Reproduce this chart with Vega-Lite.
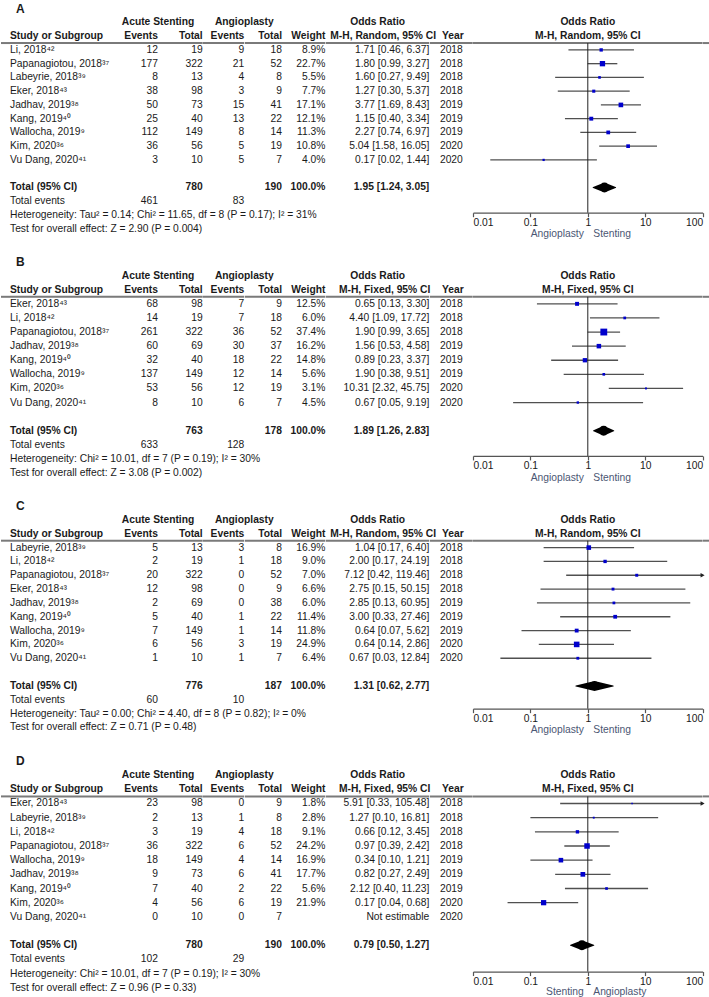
{
"$schema":"https://vega.github.io/schema/vega-lite/v6.json",
"padding":{"left":0,"top":1.8,"right":0,"bottom":0},
"columns":11,
"spacing":{"row":18.7,"column":0},
"align":{"row":"each","column":"each"},
"bounds":"flush",
"config":{
"view":{"stroke":null},
"font":"Liberation Sans",
"text":{"font":"Liberation Sans","fontSize":10.3,"color":"#1a1a1a","baseline":"middle"},
"axisY":{"disable":true},
"axisX":{"grid":false,"tickSize":4,"labelFlush":true,"domainColor":"#555555","tickColor":"#555555","domainWidth":1.2,"tickWidth":1.2,"labelFont":"Liberation Sans","labelFontSize":10.3,"labelColor":"#1a1a1a","labelPadding":1}
},
"datasets":{
"A":[
{"study":"Li, 2018⁴²","ae":12,"at":19,"be":9,"bt":18,"w":0.089,"ci":"1.71 [0.46, 6.37]","year":2018,"or":1.71,"lo":0.46,"hi":6.37},
{"study":"Papanagiotou, 2018³⁷","ae":177,"at":322,"be":21,"bt":52,"w":0.227,"ci":"1.80 [0.99, 3.27]","year":2018,"or":1.8,"lo":0.99,"hi":3.27},
{"study":"Labeyrie, 2018³⁹","ae":8,"at":13,"be":4,"bt":8,"w":0.055,"ci":"1.60 [0.27, 9.49]","year":2018,"or":1.6,"lo":0.27,"hi":9.49},
{"study":"Eker, 2018⁴³","ae":38,"at":98,"be":3,"bt":9,"w":0.077,"ci":"1.27 [0.30, 5.37]","year":2018,"or":1.27,"lo":0.3,"hi":5.37},
{"study":"Jadhav, 2019³⁸","ae":50,"at":73,"be":15,"bt":41,"w":0.171,"ci":"3.77 [1.69, 8.43]","year":2019,"or":3.77,"lo":1.69,"hi":8.43},
{"study":"Kang, 2019⁴⁰","ae":25,"at":40,"be":13,"bt":22,"w":0.121,"ci":"1.15 [0.40, 3.34]","year":2019,"or":1.15,"lo":0.4,"hi":3.34},
{"study":"Wallocha, 2019⁹","ae":112,"at":149,"be":8,"bt":14,"w":0.113,"ci":"2.27 [0.74, 6.97]","year":2019,"or":2.27,"lo":0.74,"hi":6.97},
{"study":"Kim, 2020³⁶","ae":36,"at":56,"be":5,"bt":19,"w":0.108,"ci":"5.04 [1.58, 16.05]","year":2020,"or":5.04,"lo":1.58,"hi":16.05},
{"study":"Vu Dang, 2020⁴¹","ae":3,"at":10,"be":5,"bt":7,"w":0.04,"ci":"0.17 [0.02, 1.44]","year":2020,"or":0.17,"lo":0.02,"hi":1.44}
],
"At":[{"ae":461,"at":780,"be":83,"bt":190,"w":1,"ci":"1.95 [1.24, 3.05]","or":1.95,"lo":1.24,"hi":3.05,"het":"Heterogeneity: Tau² = 0.14; Chi² = 11.65, df = 8 (P = 0.17); I² = 31%","test":"Test for overall effect: Z = 2.90 (P = 0.004)"}],
"B":[
{"study":"Eker, 2018⁴³","ae":68,"at":98,"be":7,"bt":9,"w":0.125,"ci":"0.65 [0.13, 3.30]","year":2018,"or":0.65,"lo":0.13,"hi":3.3},
{"study":"Li, 2018⁴²","ae":14,"at":19,"be":7,"bt":18,"w":0.06,"ci":"4.40 [1.09, 17.72]","year":2018,"or":4.4,"lo":1.09,"hi":17.72},
{"study":"Papanagiotou, 2018³⁷","ae":261,"at":322,"be":36,"bt":52,"w":0.374,"ci":"1.90 [0.99, 3.65]","year":2018,"or":1.9,"lo":0.99,"hi":3.65},
{"study":"Jadhav, 2019³⁸","ae":60,"at":69,"be":30,"bt":37,"w":0.162,"ci":"1.56 [0.53, 4.58]","year":2019,"or":1.56,"lo":0.53,"hi":4.58},
{"study":"Kang, 2019⁴⁰","ae":32,"at":40,"be":18,"bt":22,"w":0.148,"ci":"0.89 [0.23, 3.37]","year":2019,"or":0.89,"lo":0.23,"hi":3.37},
{"study":"Wallocha, 2019⁹","ae":137,"at":149,"be":12,"bt":14,"w":0.056,"ci":"1.90 [0.38, 9.51]","year":2019,"or":1.9,"lo":0.38,"hi":9.51},
{"study":"Kim, 2020³⁶","ae":53,"at":56,"be":12,"bt":19,"w":0.031,"ci":"10.31 [2.32, 45.75]","year":2020,"or":10.31,"lo":2.32,"hi":45.75},
{"study":"Vu Dang, 2020⁴¹","ae":8,"at":10,"be":6,"bt":7,"w":0.045,"ci":"0.67 [0.05, 9.19]","year":2020,"or":0.67,"lo":0.05,"hi":9.19}
],
"Bt":[{"ae":633,"at":763,"be":128,"bt":178,"w":1,"ci":"1.89 [1.26, 2.83]","or":1.89,"lo":1.26,"hi":2.83,"het":"Heterogeneity: Chi² = 10.01, df = 7 (P = 0.19); I² = 30%","test":"Test for overall effect: Z = 3.08 (P = 0.002)"}],
"C":[
{"study":"Labeyrie, 2018³⁹","ae":5,"at":13,"be":3,"bt":8,"w":0.169,"ci":"1.04 [0.17, 6.40]","year":2018,"or":1.04,"lo":0.17,"hi":6.4},
{"study":"Li, 2018⁴²","ae":2,"at":19,"be":1,"bt":18,"w":0.09,"ci":"2.00 [0.17, 24.19]","year":2018,"or":2,"lo":0.17,"hi":24.19},
{"study":"Papanagiotou, 2018³⁷","ae":20,"at":322,"be":0,"bt":52,"w":0.07,"ci":"7.12 [0.42, 119.46]","year":2018,"or":7.12,"lo":0.42,"hi":119.46},
{"study":"Eker, 2018⁴³","ae":12,"at":98,"be":0,"bt":9,"w":0.066,"ci":"2.75 [0.15, 50.15]","year":2018,"or":2.75,"lo":0.15,"hi":50.15},
{"study":"Jadhav, 2019³⁸","ae":2,"at":69,"be":0,"bt":38,"w":0.06,"ci":"2.85 [0.13, 60.95]","year":2019,"or":2.85,"lo":0.13,"hi":60.95},
{"study":"Kang, 2019⁴⁰","ae":5,"at":40,"be":1,"bt":22,"w":0.114,"ci":"3.00 [0.33, 27.46]","year":2019,"or":3,"lo":0.33,"hi":27.46},
{"study":"Wallocha, 2019⁹","ae":7,"at":149,"be":1,"bt":14,"w":0.118,"ci":"0.64 [0.07, 5.62]","year":2019,"or":0.64,"lo":0.07,"hi":5.62},
{"study":"Kim, 2020³⁶","ae":6,"at":56,"be":3,"bt":19,"w":0.249,"ci":"0.64 [0.14, 2.86]","year":2020,"or":0.64,"lo":0.14,"hi":2.86},
{"study":"Vu Dang, 2020⁴¹","ae":1,"at":10,"be":1,"bt":7,"w":0.064,"ci":"0.67 [0.03, 12.84]","year":2020,"or":0.67,"lo":0.03,"hi":12.84}
],
"Ct":[{"ae":60,"at":776,"be":10,"bt":187,"w":1,"ci":"1.31 [0.62, 2.77]","or":1.31,"lo":0.62,"hi":2.77,"het":"Heterogeneity: Tau² = 0.00; Chi² = 4.40, df = 8 (P = 0.82); I² = 0%","test":"Test for overall effect: Z = 0.71 (P = 0.48)"}],
"D":[
{"study":"Eker, 2018⁴³","ae":23,"at":98,"be":0,"bt":9,"w":0.018,"ci":"5.91 [0.33, 105.48]","year":2018,"or":5.91,"lo":0.33,"hi":105.48},
{"study":"Labeyrie, 2018³⁹","ae":2,"at":13,"be":1,"bt":8,"w":0.028,"ci":"1.27 [0.10, 16.81]","year":2018,"or":1.27,"lo":0.1,"hi":16.81},
{"study":"Li, 2018⁴²","ae":3,"at":19,"be":4,"bt":18,"w":0.091,"ci":"0.66 [0.12, 3.45]","year":2018,"or":0.66,"lo":0.12,"hi":3.45},
{"study":"Papanagiotou, 2018³⁷","ae":36,"at":322,"be":6,"bt":52,"w":0.242,"ci":"0.97 [0.39, 2.42]","year":2018,"or":0.97,"lo":0.39,"hi":2.42},
{"study":"Wallocha, 2019⁹","ae":18,"at":149,"be":4,"bt":14,"w":0.169,"ci":"0.34 [0.10, 1.21]","year":2019,"or":0.34,"lo":0.1,"hi":1.21},
{"study":"Jadhav, 2019³⁸","ae":9,"at":73,"be":6,"bt":41,"w":0.177,"ci":"0.82 [0.27, 2.49]","year":2019,"or":0.82,"lo":0.27,"hi":2.49},
{"study":"Kang, 2019⁴⁰","ae":7,"at":40,"be":2,"bt":22,"w":0.056,"ci":"2.12 [0.40, 11.23]","year":2019,"or":2.12,"lo":0.4,"hi":11.23},
{"study":"Kim, 2020³⁶","ae":4,"at":56,"be":6,"bt":19,"w":0.219,"ci":"0.17 [0.04, 0.68]","year":2020,"or":0.17,"lo":0.04,"hi":0.68},
{"study":"Vu Dang, 2020⁴¹","ae":0,"at":10,"be":0,"bt":7,"w":null,"ci":"Not estimable","year":2020,"or":null,"lo":null,"hi":null}
],
"Dt":[{"ae":102,"at":780,"be":29,"bt":190,"w":1,"ci":"0.79 [0.50, 1.27]","or":0.79,"lo":0.5,"hi":1.27,"het":"Heterogeneity: Chi² = 10.01, df = 7 (P = 0.19); I² = 30%","test":"Test for overall effect: Z = 0.96 (P = 0.33)"}]
},
"concat":[
{"width":9,"height":{"step":13.75},"data":{"values":[{}]},"mark":{"type":"rule","color":"#7a7a7a","strokeWidth":2},"encoding":{"x":{"value":0},"x2":{"value":"width"},"y":{"datum":"hdr2","bandPosition":1,"scale":{"type":"band","domain":["lbl","hdr1","hdr2","Li, 2018⁴²","Papanagiotou, 2018³⁷","Labeyrie, 2018³⁹","Eker, 2018⁴³","Jadhav, 2019³⁸","Kang, 2019⁴⁰","Wallocha, 2019⁹","Kim, 2020³⁶","Vu Dang, 2020⁴¹","blank","total","tevents","het","test"],"paddingInner":0,"paddingOuter":0},"axis":null}}},
{"width":102,"height":{"step":13.75},"data":{"name":"A"},"encoding":{"y":{"field":"study","type":"nominal","scale":{"type":"band","domain":["lbl","hdr1","hdr2","Li, 2018⁴²","Papanagiotou, 2018³⁷","Labeyrie, 2018³⁹","Eker, 2018⁴³","Jadhav, 2019³⁸","Kang, 2019⁴⁰","Wallocha, 2019⁹","Kim, 2020³⁶","Vu Dang, 2020⁴¹","blank","total","tevents","het","test"],"paddingInner":0,"paddingOuter":0},"axis":null},"x":{"value":0}},"layer":[
{"mark":{"type":"text","align":"left"},"encoding":{"text":{"field":"study","type":"nominal"}}},
{"data":{"values":[{}]},"mark":{"type":"text","align":"left","dx":6,"fontSize":12,"fontWeight":"bold","text":"A"},"encoding":{"y":{"datum":"lbl"}}},
{"data":{"values":[{}]},"mark":{"type":"text","align":"left","fontWeight":"bold","text":"Study or Subgroup"},"encoding":{"y":{"datum":"hdr2"}}},
{"data":{"values":[{}]},"mark":{"type":"text","align":"left","fontWeight":"bold","text":"Total (95% CI)"},"encoding":{"y":{"datum":"total"}}},
{"data":{"values":[{}]},"mark":{"type":"text","align":"left","text":"Total events"},"encoding":{"y":{"datum":"tevents"}}},
{"data":{"name":"At"},"mark":{"type":"text","align":"left"},"encoding":{"y":{"datum":"het"},"text":{"field":"het","type":"nominal"}}},
{"data":{"name":"At"},"mark":{"type":"text","align":"left"},"encoding":{"y":{"datum":"test"},"text":{"field":"test","type":"nominal"}}},
{"data":{"values":[{}]},"mark":{"type":"rule","color":"#7a7a7a","strokeWidth":2},"encoding":{"x":{"value":0},"x2":{"value":"width"},"y":{"datum":"hdr2","bandPosition":1}}}
]},
{"width":46,"height":{"step":13.75},"data":{"name":"A"},"encoding":{"y":{"field":"study","type":"nominal","scale":{"type":"band","domain":["lbl","hdr1","hdr2","Li, 2018⁴²","Papanagiotou, 2018³⁷","Labeyrie, 2018³⁹","Eker, 2018⁴³","Jadhav, 2019³⁸","Kang, 2019⁴⁰","Wallocha, 2019⁹","Kim, 2020³⁶","Vu Dang, 2020⁴¹","blank","total","tevents","het","test"],"paddingInner":0,"paddingOuter":0},"axis":null},"x":{"value":"width"}},"layer":[
{"mark":{"type":"text","align":"right"},"encoding":{"text":{"field":"ae","type":"nominal"}}},
{"data":{"values":[{}]},"mark":{"type":"text","align":"center","fontWeight":"bold","text":"Acute Stenting"},"encoding":{"y":{"datum":"hdr1"}}},
{"data":{"values":[{}]},"mark":{"type":"text","align":"right","fontWeight":"bold","text":"Events"},"encoding":{"y":{"datum":"hdr2"}}},
{"data":{"name":"At"},"mark":{"type":"text","align":"right"},"encoding":{"y":{"datum":"tevents"},"text":{"field":"ae","type":"nominal"}}},
{"data":{"values":[{}]},"mark":{"type":"rule","color":"#7a7a7a","strokeWidth":2},"encoding":{"x":{"value":0},"x2":{"value":"width"},"y":{"datum":"hdr2","bandPosition":1}}}
]},
{"width":44.7,"height":{"step":13.75},"data":{"name":"A"},"encoding":{"y":{"field":"study","type":"nominal","scale":{"type":"band","domain":["lbl","hdr1","hdr2","Li, 2018⁴²","Papanagiotou, 2018³⁷","Labeyrie, 2018³⁹","Eker, 2018⁴³","Jadhav, 2019³⁸","Kang, 2019⁴⁰","Wallocha, 2019⁹","Kim, 2020³⁶","Vu Dang, 2020⁴¹","blank","total","tevents","het","test"],"paddingInner":0,"paddingOuter":0},"axis":null},"x":{"value":"width"}},"layer":[
{"mark":{"type":"text","align":"right"},"encoding":{"text":{"field":"at","type":"nominal"}}},
{"data":{"values":[{}]},"mark":{"type":"text","align":"right","fontWeight":"bold","text":"Total"},"encoding":{"y":{"datum":"hdr2"}}},
{"data":{"name":"At"},"mark":{"type":"text","align":"right","fontWeight":"bold"},"encoding":{"y":{"datum":"total"},"text":{"field":"at","type":"nominal"}}},
{"data":{"values":[{}]},"mark":{"type":"rule","color":"#7a7a7a","strokeWidth":2},"encoding":{"x":{"value":0},"x2":{"value":"width"},"y":{"datum":"hdr2","bandPosition":1}}}
]},
{"width":41.3,"height":{"step":13.75},"data":{"name":"A"},"encoding":{"y":{"field":"study","type":"nominal","scale":{"type":"band","domain":["lbl","hdr1","hdr2","Li, 2018⁴²","Papanagiotou, 2018³⁷","Labeyrie, 2018³⁹","Eker, 2018⁴³","Jadhav, 2019³⁸","Kang, 2019⁴⁰","Wallocha, 2019⁹","Kim, 2020³⁶","Vu Dang, 2020⁴¹","blank","total","tevents","het","test"],"paddingInner":0,"paddingOuter":0},"axis":null},"x":{"value":"width"}},"layer":[
{"mark":{"type":"text","align":"right"},"encoding":{"text":{"field":"be","type":"nominal"}}},
{"data":{"values":[{}]},"mark":{"type":"text","align":"center","fontWeight":"bold","text":"Angioplasty"},"encoding":{"y":{"datum":"hdr1"}}},
{"data":{"values":[{}]},"mark":{"type":"text","align":"right","fontWeight":"bold","text":"Events"},"encoding":{"y":{"datum":"hdr2"}}},
{"data":{"name":"At"},"mark":{"type":"text","align":"right"},"encoding":{"y":{"datum":"tevents"},"text":{"field":"be","type":"nominal"}}},
{"data":{"values":[{}]},"mark":{"type":"rule","color":"#7a7a7a","strokeWidth":2},"encoding":{"x":{"value":0},"x2":{"value":"width"},"y":{"datum":"hdr2","bandPosition":1}}}
]},
{"width":37,"height":{"step":13.75},"data":{"name":"A"},"encoding":{"y":{"field":"study","type":"nominal","scale":{"type":"band","domain":["lbl","hdr1","hdr2","Li, 2018⁴²","Papanagiotou, 2018³⁷","Labeyrie, 2018³⁹","Eker, 2018⁴³","Jadhav, 2019³⁸","Kang, 2019⁴⁰","Wallocha, 2019⁹","Kim, 2020³⁶","Vu Dang, 2020⁴¹","blank","total","tevents","het","test"],"paddingInner":0,"paddingOuter":0},"axis":null},"x":{"value":"width"}},"layer":[
{"mark":{"type":"text","align":"right"},"encoding":{"text":{"field":"bt","type":"nominal"}}},
{"data":{"values":[{}]},"mark":{"type":"text","align":"right","fontWeight":"bold","text":"Total"},"encoding":{"y":{"datum":"hdr2"}}},
{"data":{"name":"At"},"mark":{"type":"text","align":"right","fontWeight":"bold"},"encoding":{"y":{"datum":"total"},"text":{"field":"bt","type":"nominal"}}},
{"data":{"values":[{}]},"mark":{"type":"rule","color":"#7a7a7a","strokeWidth":2},"encoding":{"x":{"value":0},"x2":{"value":"width"},"y":{"datum":"hdr2","bandPosition":1}}}
]},
{"width":43.4,"height":{"step":13.75},"data":{"name":"A"},"encoding":{"y":{"field":"study","type":"nominal","scale":{"type":"band","domain":["lbl","hdr1","hdr2","Li, 2018⁴²","Papanagiotou, 2018³⁷","Labeyrie, 2018³⁹","Eker, 2018⁴³","Jadhav, 2019³⁸","Kang, 2019⁴⁰","Wallocha, 2019⁹","Kim, 2020³⁶","Vu Dang, 2020⁴¹","blank","total","tevents","het","test"],"paddingInner":0,"paddingOuter":0},"axis":null},"x":{"value":"width"}},"layer":[
{"transform":[{"filter":"isValid(datum.w)"}],"mark":{"type":"text","align":"right"},"encoding":{"text":{"field":"w","type":"quantitative","format":".1%"}}},
{"data":{"values":[{}]},"mark":{"type":"text","align":"right","fontWeight":"bold","text":"Weight"},"encoding":{"y":{"datum":"hdr2"}}},
{"data":{"name":"At"},"mark":{"type":"text","align":"right","fontWeight":"bold"},"encoding":{"y":{"datum":"total"},"text":{"field":"w","type":"quantitative","format":".1%"}}},
{"data":{"values":[{}]},"mark":{"type":"rule","color":"#7a7a7a","strokeWidth":2},"encoding":{"x":{"value":0},"x2":{"value":"width"},"y":{"datum":"hdr2","bandPosition":1}}}
]},
{"width":103.3,"height":{"step":13.75},"data":{"name":"A"},"encoding":{"y":{"field":"study","type":"nominal","scale":{"type":"band","domain":["lbl","hdr1","hdr2","Li, 2018⁴²","Papanagiotou, 2018³⁷","Labeyrie, 2018³⁹","Eker, 2018⁴³","Jadhav, 2019³⁸","Kang, 2019⁴⁰","Wallocha, 2019⁹","Kim, 2020³⁶","Vu Dang, 2020⁴¹","blank","total","tevents","het","test"],"paddingInner":0,"paddingOuter":0},"axis":null}},"layer":[
{"mark":{"type":"text","align":"right"},"encoding":{"x":{"value":"width"},"text":{"field":"ci","type":"nominal"}}},
{"data":{"values":[{}]},"mark":{"type":"text","fontWeight":"bold","text":"Odds Ratio"},"encoding":{"y":{"datum":"hdr1"}}},
{"data":{"values":[{}]},"mark":{"type":"text","fontWeight":"bold","dx":5.5,"text":"M-H, Random, 95% CI"},"encoding":{"y":{"datum":"hdr2"}}},
{"data":{"name":"At"},"mark":{"type":"text","align":"right","fontWeight":"bold"},"encoding":{"x":{"value":"width"},"y":{"datum":"total"},"text":{"field":"ci","type":"nominal"}}},
{"data":{"values":[{}]},"mark":{"type":"rule","color":"#7a7a7a","strokeWidth":2},"encoding":{"x":{"value":0},"x2":{"value":"width"},"y":{"datum":"hdr2","bandPosition":1}}}
]},
{"width":42.7,"height":{"step":13.75},"data":{"name":"A"},"encoding":{"y":{"field":"study","type":"nominal","scale":{"type":"band","domain":["lbl","hdr1","hdr2","Li, 2018⁴²","Papanagiotou, 2018³⁷","Labeyrie, 2018³⁹","Eker, 2018⁴³","Jadhav, 2019³⁸","Kang, 2019⁴⁰","Wallocha, 2019⁹","Kim, 2020³⁶","Vu Dang, 2020⁴¹","blank","total","tevents","het","test"],"paddingInner":0,"paddingOuter":0},"axis":null}},"layer":[
{"mark":{"type":"text"},"encoding":{"text":{"field":"year","type":"nominal"}}},
{"data":{"values":[{}]},"mark":{"type":"text","fontWeight":"bold","dx":1.5,"text":"Year"},"encoding":{"y":{"datum":"hdr2"}}},
{"data":{"values":[{}]},"mark":{"type":"rule","color":"#7a7a7a","strokeWidth":2},"encoding":{"x":{"value":0},"x2":{"value":"width"},"y":{"datum":"hdr2","bandPosition":1}}}
]},
{"width":229.6,"height":210.9,"data":{"name":"A"},"encoding":{"y":{"field":"study","type":"nominal","scale":{"type":"band","domain":["lbl","hdr1","hdr2","Li, 2018⁴²","Papanagiotou, 2018³⁷","Labeyrie, 2018³⁹","Eker, 2018⁴³","Jadhav, 2019³⁸","Kang, 2019⁴⁰","Wallocha, 2019⁹","Kim, 2020³⁶","Vu Dang, 2020⁴¹","blank","total","tevents"],"paddingInner":0,"paddingOuter":0.169,"align":0},"axis":null}},"layer":[
{"data":{"values":[{}]},"mark":{"type":"rule","color":"#7a7a7a","strokeWidth":2},"encoding":{"x":{"value":0},"x2":{"value":"width"},"y":{"datum":"hdr2","bandPosition":1}}},
{"data":{"values":[{}]},"mark":{"type":"text","fontWeight":"bold","text":"Odds Ratio"},"encoding":{"y":{"datum":"hdr1"}}},
{"data":{"values":[{}]},"mark":{"type":"text","fontWeight":"bold","text":"M-H, Random, 95% CI"},"encoding":{"y":{"datum":"hdr2"}}},
{"transform":[{"filter":"isValid(datum.or)"}],"mark":{"type":"rule","color":"#505050","strokeWidth":1.3},"encoding":{"x":{"field":"lo","type":"quantitative","scale":{"type":"log","domain":[0.01,100],"nice":false,"clamp":true},"axis":{"values":[0.01,0.1,1,10,100],"format":"~g","title":null}},"x2":{"field":"hi"}}},
{"data":{"values":[{}]},"mark":{"type":"rule","color":"#222222","strokeWidth":1},"encoding":{"x":{"datum":1},"y":{"datum":"hdr2","bandPosition":1},"y2":{"value":"height"}}},
{"data":{"values":[{}]},"mark":{"type":"text","align":"right","dx":-4,"dy":21.5,"color":"#4b5673","text":"Angioplasty"},"encoding":{"x":{"datum":1},"y":{"value":"height"}}},
{"data":{"values":[{}]},"mark":{"type":"text","align":"left","dx":5.5,"dy":21.5,"color":"#4b5673","text":"Stenting"},"encoding":{"x":{"datum":1},"y":{"value":"height"}}},
{"transform":[{"filter":"isValid(datum.or)"}],"mark":{"type":"point","shape":"square","filled":true,"opacity":1,"color":"#0000cc","strokeWidth":0},"encoding":{"x":{"field":"or","type":"quantitative"},"size":{"field":"w","type":"quantitative","scale":{"domain":[0,0.4],"range":[0,50]},"legend":null}}},
{"transform":[{"filter":"datum.hi > 100"}],"mark":{"type":"point","shape":"triangle-right","filled":true,"opacity":1,"color":"#222222","size":22},"encoding":{"x":{"field":"hi","type":"quantitative"}}},
{"data":{"name":"At"},"transform":[{"fold":["lo","or","hi"],"as":["k","v"]}],"mark":{"type":"trail","color":"#000000"},"encoding":{"x":{"field":"v","type":"quantitative"},"y":{"datum":"total"},"size":{"condition":{"test":"datum.k === 'or'","value":10},"value":0}}}
]},
{"width":10,"height":{"step":13.75},"data":{"values":[{}]},"mark":{"type":"rule","color":"#7a7a7a","strokeWidth":2},"encoding":{"x":{"value":0},"x2":{"value":"width"},"y":{"datum":"hdr2","bandPosition":1,"scale":{"type":"band","domain":["lbl","hdr1","hdr2","Li, 2018⁴²","Papanagiotou, 2018³⁷","Labeyrie, 2018³⁹","Eker, 2018⁴³","Jadhav, 2019³⁸","Kang, 2019⁴⁰","Wallocha, 2019⁹","Kim, 2020³⁶","Vu Dang, 2020⁴¹","blank","total","tevents","het","test"],"paddingInner":0,"paddingOuter":0},"axis":null}}},

{"width":9,"height":{"step":14.1},"data":{"values":[{}]},"mark":{"type":"rule","color":"#7a7a7a","strokeWidth":2},"encoding":{"x":{"value":0},"x2":{"value":"width"},"y":{"datum":"hdr2","bandPosition":1,"scale":{"type":"band","domain":["lbl","hdr1","hdr2","Eker, 2018⁴³","Li, 2018⁴²","Papanagiotou, 2018³⁷","Jadhav, 2019³⁸","Kang, 2019⁴⁰","Wallocha, 2019⁹","Kim, 2020³⁶","Vu Dang, 2020⁴¹","blank","total","tevents","het","test"],"paddingInner":0,"paddingOuter":0},"axis":null}}},
{"width":102,"height":{"step":14.1},"data":{"name":"B"},"encoding":{"y":{"field":"study","type":"nominal","scale":{"type":"band","domain":["lbl","hdr1","hdr2","Eker, 2018⁴³","Li, 2018⁴²","Papanagiotou, 2018³⁷","Jadhav, 2019³⁸","Kang, 2019⁴⁰","Wallocha, 2019⁹","Kim, 2020³⁶","Vu Dang, 2020⁴¹","blank","total","tevents","het","test"],"paddingInner":0,"paddingOuter":0},"axis":null},"x":{"value":0}},"layer":[
{"mark":{"type":"text","align":"left"},"encoding":{"text":{"field":"study","type":"nominal"}}},
{"data":{"values":[{}]},"mark":{"type":"text","align":"left","dx":6,"fontSize":12,"fontWeight":"bold","text":"B"},"encoding":{"y":{"datum":"lbl"}}},
{"data":{"values":[{}]},"mark":{"type":"text","align":"left","fontWeight":"bold","text":"Study or Subgroup"},"encoding":{"y":{"datum":"hdr2"}}},
{"data":{"values":[{}]},"mark":{"type":"text","align":"left","fontWeight":"bold","text":"Total (95% CI)"},"encoding":{"y":{"datum":"total"}}},
{"data":{"values":[{}]},"mark":{"type":"text","align":"left","text":"Total events"},"encoding":{"y":{"datum":"tevents"}}},
{"data":{"name":"Bt"},"mark":{"type":"text","align":"left"},"encoding":{"y":{"datum":"het"},"text":{"field":"het","type":"nominal"}}},
{"data":{"name":"Bt"},"mark":{"type":"text","align":"left"},"encoding":{"y":{"datum":"test"},"text":{"field":"test","type":"nominal"}}},
{"data":{"values":[{}]},"mark":{"type":"rule","color":"#7a7a7a","strokeWidth":2},"encoding":{"x":{"value":0},"x2":{"value":"width"},"y":{"datum":"hdr2","bandPosition":1}}}
]},
{"width":46,"height":{"step":14.1},"data":{"name":"B"},"encoding":{"y":{"field":"study","type":"nominal","scale":{"type":"band","domain":["lbl","hdr1","hdr2","Eker, 2018⁴³","Li, 2018⁴²","Papanagiotou, 2018³⁷","Jadhav, 2019³⁸","Kang, 2019⁴⁰","Wallocha, 2019⁹","Kim, 2020³⁶","Vu Dang, 2020⁴¹","blank","total","tevents","het","test"],"paddingInner":0,"paddingOuter":0},"axis":null},"x":{"value":"width"}},"layer":[
{"mark":{"type":"text","align":"right"},"encoding":{"text":{"field":"ae","type":"nominal"}}},
{"data":{"values":[{}]},"mark":{"type":"text","align":"center","fontWeight":"bold","text":"Acute Stenting"},"encoding":{"y":{"datum":"hdr1"}}},
{"data":{"values":[{}]},"mark":{"type":"text","align":"right","fontWeight":"bold","text":"Events"},"encoding":{"y":{"datum":"hdr2"}}},
{"data":{"name":"Bt"},"mark":{"type":"text","align":"right"},"encoding":{"y":{"datum":"tevents"},"text":{"field":"ae","type":"nominal"}}},
{"data":{"values":[{}]},"mark":{"type":"rule","color":"#7a7a7a","strokeWidth":2},"encoding":{"x":{"value":0},"x2":{"value":"width"},"y":{"datum":"hdr2","bandPosition":1}}}
]},
{"width":44.7,"height":{"step":14.1},"data":{"name":"B"},"encoding":{"y":{"field":"study","type":"nominal","scale":{"type":"band","domain":["lbl","hdr1","hdr2","Eker, 2018⁴³","Li, 2018⁴²","Papanagiotou, 2018³⁷","Jadhav, 2019³⁸","Kang, 2019⁴⁰","Wallocha, 2019⁹","Kim, 2020³⁶","Vu Dang, 2020⁴¹","blank","total","tevents","het","test"],"paddingInner":0,"paddingOuter":0},"axis":null},"x":{"value":"width"}},"layer":[
{"mark":{"type":"text","align":"right"},"encoding":{"text":{"field":"at","type":"nominal"}}},
{"data":{"values":[{}]},"mark":{"type":"text","align":"right","fontWeight":"bold","text":"Total"},"encoding":{"y":{"datum":"hdr2"}}},
{"data":{"name":"Bt"},"mark":{"type":"text","align":"right","fontWeight":"bold"},"encoding":{"y":{"datum":"total"},"text":{"field":"at","type":"nominal"}}},
{"data":{"values":[{}]},"mark":{"type":"rule","color":"#7a7a7a","strokeWidth":2},"encoding":{"x":{"value":0},"x2":{"value":"width"},"y":{"datum":"hdr2","bandPosition":1}}}
]},
{"width":41.3,"height":{"step":14.1},"data":{"name":"B"},"encoding":{"y":{"field":"study","type":"nominal","scale":{"type":"band","domain":["lbl","hdr1","hdr2","Eker, 2018⁴³","Li, 2018⁴²","Papanagiotou, 2018³⁷","Jadhav, 2019³⁸","Kang, 2019⁴⁰","Wallocha, 2019⁹","Kim, 2020³⁶","Vu Dang, 2020⁴¹","blank","total","tevents","het","test"],"paddingInner":0,"paddingOuter":0},"axis":null},"x":{"value":"width"}},"layer":[
{"mark":{"type":"text","align":"right"},"encoding":{"text":{"field":"be","type":"nominal"}}},
{"data":{"values":[{}]},"mark":{"type":"text","align":"center","fontWeight":"bold","text":"Angioplasty"},"encoding":{"y":{"datum":"hdr1"}}},
{"data":{"values":[{}]},"mark":{"type":"text","align":"right","fontWeight":"bold","text":"Events"},"encoding":{"y":{"datum":"hdr2"}}},
{"data":{"name":"Bt"},"mark":{"type":"text","align":"right"},"encoding":{"y":{"datum":"tevents"},"text":{"field":"be","type":"nominal"}}},
{"data":{"values":[{}]},"mark":{"type":"rule","color":"#7a7a7a","strokeWidth":2},"encoding":{"x":{"value":0},"x2":{"value":"width"},"y":{"datum":"hdr2","bandPosition":1}}}
]},
{"width":37,"height":{"step":14.1},"data":{"name":"B"},"encoding":{"y":{"field":"study","type":"nominal","scale":{"type":"band","domain":["lbl","hdr1","hdr2","Eker, 2018⁴³","Li, 2018⁴²","Papanagiotou, 2018³⁷","Jadhav, 2019³⁸","Kang, 2019⁴⁰","Wallocha, 2019⁹","Kim, 2020³⁶","Vu Dang, 2020⁴¹","blank","total","tevents","het","test"],"paddingInner":0,"paddingOuter":0},"axis":null},"x":{"value":"width"}},"layer":[
{"mark":{"type":"text","align":"right"},"encoding":{"text":{"field":"bt","type":"nominal"}}},
{"data":{"values":[{}]},"mark":{"type":"text","align":"right","fontWeight":"bold","text":"Total"},"encoding":{"y":{"datum":"hdr2"}}},
{"data":{"name":"Bt"},"mark":{"type":"text","align":"right","fontWeight":"bold"},"encoding":{"y":{"datum":"total"},"text":{"field":"bt","type":"nominal"}}},
{"data":{"values":[{}]},"mark":{"type":"rule","color":"#7a7a7a","strokeWidth":2},"encoding":{"x":{"value":0},"x2":{"value":"width"},"y":{"datum":"hdr2","bandPosition":1}}}
]},
{"width":43.4,"height":{"step":14.1},"data":{"name":"B"},"encoding":{"y":{"field":"study","type":"nominal","scale":{"type":"band","domain":["lbl","hdr1","hdr2","Eker, 2018⁴³","Li, 2018⁴²","Papanagiotou, 2018³⁷","Jadhav, 2019³⁸","Kang, 2019⁴⁰","Wallocha, 2019⁹","Kim, 2020³⁶","Vu Dang, 2020⁴¹","blank","total","tevents","het","test"],"paddingInner":0,"paddingOuter":0},"axis":null},"x":{"value":"width"}},"layer":[
{"transform":[{"filter":"isValid(datum.w)"}],"mark":{"type":"text","align":"right"},"encoding":{"text":{"field":"w","type":"quantitative","format":".1%"}}},
{"data":{"values":[{}]},"mark":{"type":"text","align":"right","fontWeight":"bold","text":"Weight"},"encoding":{"y":{"datum":"hdr2"}}},
{"data":{"name":"Bt"},"mark":{"type":"text","align":"right","fontWeight":"bold"},"encoding":{"y":{"datum":"total"},"text":{"field":"w","type":"quantitative","format":".1%"}}},
{"data":{"values":[{}]},"mark":{"type":"rule","color":"#7a7a7a","strokeWidth":2},"encoding":{"x":{"value":0},"x2":{"value":"width"},"y":{"datum":"hdr2","bandPosition":1}}}
]},
{"width":103.3,"height":{"step":14.1},"data":{"name":"B"},"encoding":{"y":{"field":"study","type":"nominal","scale":{"type":"band","domain":["lbl","hdr1","hdr2","Eker, 2018⁴³","Li, 2018⁴²","Papanagiotou, 2018³⁷","Jadhav, 2019³⁸","Kang, 2019⁴⁰","Wallocha, 2019⁹","Kim, 2020³⁶","Vu Dang, 2020⁴¹","blank","total","tevents","het","test"],"paddingInner":0,"paddingOuter":0},"axis":null}},"layer":[
{"mark":{"type":"text","align":"right"},"encoding":{"x":{"value":"width"},"text":{"field":"ci","type":"nominal"}}},
{"data":{"values":[{}]},"mark":{"type":"text","fontWeight":"bold","text":"Odds Ratio"},"encoding":{"y":{"datum":"hdr1"}}},
{"data":{"values":[{}]},"mark":{"type":"text","fontWeight":"bold","dx":7,"text":"M-H, Fixed, 95% CI"},"encoding":{"y":{"datum":"hdr2"}}},
{"data":{"name":"Bt"},"mark":{"type":"text","align":"right","fontWeight":"bold"},"encoding":{"x":{"value":"width"},"y":{"datum":"total"},"text":{"field":"ci","type":"nominal"}}},
{"data":{"values":[{}]},"mark":{"type":"rule","color":"#7a7a7a","strokeWidth":2},"encoding":{"x":{"value":0},"x2":{"value":"width"},"y":{"datum":"hdr2","bandPosition":1}}}
]},
{"width":42.7,"height":{"step":14.1},"data":{"name":"B"},"encoding":{"y":{"field":"study","type":"nominal","scale":{"type":"band","domain":["lbl","hdr1","hdr2","Eker, 2018⁴³","Li, 2018⁴²","Papanagiotou, 2018³⁷","Jadhav, 2019³⁸","Kang, 2019⁴⁰","Wallocha, 2019⁹","Kim, 2020³⁶","Vu Dang, 2020⁴¹","blank","total","tevents","het","test"],"paddingInner":0,"paddingOuter":0},"axis":null}},"layer":[
{"mark":{"type":"text"},"encoding":{"text":{"field":"year","type":"nominal"}}},
{"data":{"values":[{}]},"mark":{"type":"text","fontWeight":"bold","dx":1.5,"text":"Year"},"encoding":{"y":{"datum":"hdr2"}}},
{"data":{"values":[{}]},"mark":{"type":"rule","color":"#7a7a7a","strokeWidth":2},"encoding":{"x":{"value":0},"x2":{"value":"width"},"y":{"datum":"hdr2","bandPosition":1}}}
]},
{"width":229.6,"height":201.45,"data":{"name":"B"},"encoding":{"y":{"field":"study","type":"nominal","scale":{"type":"band","domain":["lbl","hdr1","hdr2","Eker, 2018⁴³","Li, 2018⁴²","Papanagiotou, 2018³⁷","Jadhav, 2019³⁸","Kang, 2019⁴⁰","Wallocha, 2019⁹","Kim, 2020³⁶","Vu Dang, 2020⁴¹","blank","total","tevents"],"paddingInner":0,"paddingOuter":0.144,"align":0},"axis":null}},"layer":[
{"data":{"values":[{}]},"mark":{"type":"rule","color":"#7a7a7a","strokeWidth":2},"encoding":{"x":{"value":0},"x2":{"value":"width"},"y":{"datum":"hdr2","bandPosition":1}}},
{"data":{"values":[{}]},"mark":{"type":"text","fontWeight":"bold","text":"Odds Ratio"},"encoding":{"y":{"datum":"hdr1"}}},
{"data":{"values":[{}]},"mark":{"type":"text","fontWeight":"bold","text":"M-H, Fixed, 95% CI"},"encoding":{"y":{"datum":"hdr2"}}},
{"transform":[{"filter":"isValid(datum.or)"}],"mark":{"type":"rule","color":"#505050","strokeWidth":1.3},"encoding":{"x":{"field":"lo","type":"quantitative","scale":{"type":"log","domain":[0.01,100],"nice":false,"clamp":true},"axis":{"values":[0.01,0.1,1,10,100],"format":"~g","title":null}},"x2":{"field":"hi"}}},
{"data":{"values":[{}]},"mark":{"type":"rule","color":"#222222","strokeWidth":1},"encoding":{"x":{"datum":1},"y":{"datum":"hdr2","bandPosition":1},"y2":{"value":"height"}}},
{"data":{"values":[{}]},"mark":{"type":"text","align":"right","dx":-4,"dy":22,"color":"#4b5673","text":"Angioplasty"},"encoding":{"x":{"datum":1},"y":{"value":"height"}}},
{"data":{"values":[{}]},"mark":{"type":"text","align":"left","dx":5.5,"dy":22,"color":"#4b5673","text":"Stenting"},"encoding":{"x":{"datum":1},"y":{"value":"height"}}},
{"transform":[{"filter":"isValid(datum.or)"}],"mark":{"type":"point","shape":"square","filled":true,"opacity":1,"color":"#0000cc","strokeWidth":0},"encoding":{"x":{"field":"or","type":"quantitative"},"size":{"field":"w","type":"quantitative","scale":{"domain":[0,0.4],"range":[0,50]},"legend":null}}},
{"transform":[{"filter":"datum.hi > 100"}],"mark":{"type":"point","shape":"triangle-right","filled":true,"opacity":1,"color":"#222222","size":22},"encoding":{"x":{"field":"hi","type":"quantitative"}}},
{"data":{"name":"Bt"},"transform":[{"fold":["lo","or","hi"],"as":["k","v"]}],"mark":{"type":"trail","color":"#000000"},"encoding":{"x":{"field":"v","type":"quantitative"},"y":{"datum":"total"},"size":{"condition":{"test":"datum.k === 'or'","value":10},"value":0}}}
]},
{"width":10,"height":{"step":14.1},"data":{"values":[{}]},"mark":{"type":"rule","color":"#7a7a7a","strokeWidth":2},"encoding":{"x":{"value":0},"x2":{"value":"width"},"y":{"datum":"hdr2","bandPosition":1,"scale":{"type":"band","domain":["lbl","hdr1","hdr2","Eker, 2018⁴³","Li, 2018⁴²","Papanagiotou, 2018³⁷","Jadhav, 2019³⁸","Kang, 2019⁴⁰","Wallocha, 2019⁹","Kim, 2020³⁶","Vu Dang, 2020⁴¹","blank","total","tevents","het","test"],"paddingInner":0,"paddingOuter":0},"axis":null}}},

{"width":9,"height":{"step":13.83},"data":{"values":[{}]},"mark":{"type":"rule","color":"#7a7a7a","strokeWidth":2},"encoding":{"x":{"value":0},"x2":{"value":"width"},"y":{"datum":"hdr2","bandPosition":1,"scale":{"type":"band","domain":["lbl","hdr1","hdr2","Labeyrie, 2018³⁹","Li, 2018⁴²","Papanagiotou, 2018³⁷","Eker, 2018⁴³","Jadhav, 2019³⁸","Kang, 2019⁴⁰","Wallocha, 2019⁹","Kim, 2020³⁶","Vu Dang, 2020⁴¹","blank","total","tevents","het","test"],"paddingInner":0,"paddingOuter":0},"axis":null}}},
{"width":102,"height":{"step":13.83},"data":{"name":"C"},"encoding":{"y":{"field":"study","type":"nominal","scale":{"type":"band","domain":["lbl","hdr1","hdr2","Labeyrie, 2018³⁹","Li, 2018⁴²","Papanagiotou, 2018³⁷","Eker, 2018⁴³","Jadhav, 2019³⁸","Kang, 2019⁴⁰","Wallocha, 2019⁹","Kim, 2020³⁶","Vu Dang, 2020⁴¹","blank","total","tevents","het","test"],"paddingInner":0,"paddingOuter":0},"axis":null},"x":{"value":0}},"layer":[
{"mark":{"type":"text","align":"left"},"encoding":{"text":{"field":"study","type":"nominal"}}},
{"data":{"values":[{}]},"mark":{"type":"text","align":"left","dx":6,"fontSize":12,"fontWeight":"bold","text":"C"},"encoding":{"y":{"datum":"lbl"}}},
{"data":{"values":[{}]},"mark":{"type":"text","align":"left","fontWeight":"bold","text":"Study or Subgroup"},"encoding":{"y":{"datum":"hdr2"}}},
{"data":{"values":[{}]},"mark":{"type":"text","align":"left","fontWeight":"bold","text":"Total (95% CI)"},"encoding":{"y":{"datum":"total"}}},
{"data":{"values":[{}]},"mark":{"type":"text","align":"left","text":"Total events"},"encoding":{"y":{"datum":"tevents"}}},
{"data":{"name":"Ct"},"mark":{"type":"text","align":"left"},"encoding":{"y":{"datum":"het"},"text":{"field":"het","type":"nominal"}}},
{"data":{"name":"Ct"},"mark":{"type":"text","align":"left"},"encoding":{"y":{"datum":"test"},"text":{"field":"test","type":"nominal"}}},
{"data":{"values":[{}]},"mark":{"type":"rule","color":"#7a7a7a","strokeWidth":2},"encoding":{"x":{"value":0},"x2":{"value":"width"},"y":{"datum":"hdr2","bandPosition":1}}}
]},
{"width":46,"height":{"step":13.83},"data":{"name":"C"},"encoding":{"y":{"field":"study","type":"nominal","scale":{"type":"band","domain":["lbl","hdr1","hdr2","Labeyrie, 2018³⁹","Li, 2018⁴²","Papanagiotou, 2018³⁷","Eker, 2018⁴³","Jadhav, 2019³⁸","Kang, 2019⁴⁰","Wallocha, 2019⁹","Kim, 2020³⁶","Vu Dang, 2020⁴¹","blank","total","tevents","het","test"],"paddingInner":0,"paddingOuter":0},"axis":null},"x":{"value":"width"}},"layer":[
{"mark":{"type":"text","align":"right"},"encoding":{"text":{"field":"ae","type":"nominal"}}},
{"data":{"values":[{}]},"mark":{"type":"text","align":"center","fontWeight":"bold","text":"Acute Stenting"},"encoding":{"y":{"datum":"hdr1"}}},
{"data":{"values":[{}]},"mark":{"type":"text","align":"right","fontWeight":"bold","text":"Events"},"encoding":{"y":{"datum":"hdr2"}}},
{"data":{"name":"Ct"},"mark":{"type":"text","align":"right"},"encoding":{"y":{"datum":"tevents"},"text":{"field":"ae","type":"nominal"}}},
{"data":{"values":[{}]},"mark":{"type":"rule","color":"#7a7a7a","strokeWidth":2},"encoding":{"x":{"value":0},"x2":{"value":"width"},"y":{"datum":"hdr2","bandPosition":1}}}
]},
{"width":44.7,"height":{"step":13.83},"data":{"name":"C"},"encoding":{"y":{"field":"study","type":"nominal","scale":{"type":"band","domain":["lbl","hdr1","hdr2","Labeyrie, 2018³⁹","Li, 2018⁴²","Papanagiotou, 2018³⁷","Eker, 2018⁴³","Jadhav, 2019³⁸","Kang, 2019⁴⁰","Wallocha, 2019⁹","Kim, 2020³⁶","Vu Dang, 2020⁴¹","blank","total","tevents","het","test"],"paddingInner":0,"paddingOuter":0},"axis":null},"x":{"value":"width"}},"layer":[
{"mark":{"type":"text","align":"right"},"encoding":{"text":{"field":"at","type":"nominal"}}},
{"data":{"values":[{}]},"mark":{"type":"text","align":"right","fontWeight":"bold","text":"Total"},"encoding":{"y":{"datum":"hdr2"}}},
{"data":{"name":"Ct"},"mark":{"type":"text","align":"right","fontWeight":"bold"},"encoding":{"y":{"datum":"total"},"text":{"field":"at","type":"nominal"}}},
{"data":{"values":[{}]},"mark":{"type":"rule","color":"#7a7a7a","strokeWidth":2},"encoding":{"x":{"value":0},"x2":{"value":"width"},"y":{"datum":"hdr2","bandPosition":1}}}
]},
{"width":41.3,"height":{"step":13.83},"data":{"name":"C"},"encoding":{"y":{"field":"study","type":"nominal","scale":{"type":"band","domain":["lbl","hdr1","hdr2","Labeyrie, 2018³⁹","Li, 2018⁴²","Papanagiotou, 2018³⁷","Eker, 2018⁴³","Jadhav, 2019³⁸","Kang, 2019⁴⁰","Wallocha, 2019⁹","Kim, 2020³⁶","Vu Dang, 2020⁴¹","blank","total","tevents","het","test"],"paddingInner":0,"paddingOuter":0},"axis":null},"x":{"value":"width"}},"layer":[
{"mark":{"type":"text","align":"right"},"encoding":{"text":{"field":"be","type":"nominal"}}},
{"data":{"values":[{}]},"mark":{"type":"text","align":"center","fontWeight":"bold","text":"Angioplasty"},"encoding":{"y":{"datum":"hdr1"}}},
{"data":{"values":[{}]},"mark":{"type":"text","align":"right","fontWeight":"bold","text":"Events"},"encoding":{"y":{"datum":"hdr2"}}},
{"data":{"name":"Ct"},"mark":{"type":"text","align":"right"},"encoding":{"y":{"datum":"tevents"},"text":{"field":"be","type":"nominal"}}},
{"data":{"values":[{}]},"mark":{"type":"rule","color":"#7a7a7a","strokeWidth":2},"encoding":{"x":{"value":0},"x2":{"value":"width"},"y":{"datum":"hdr2","bandPosition":1}}}
]},
{"width":37,"height":{"step":13.83},"data":{"name":"C"},"encoding":{"y":{"field":"study","type":"nominal","scale":{"type":"band","domain":["lbl","hdr1","hdr2","Labeyrie, 2018³⁹","Li, 2018⁴²","Papanagiotou, 2018³⁷","Eker, 2018⁴³","Jadhav, 2019³⁸","Kang, 2019⁴⁰","Wallocha, 2019⁹","Kim, 2020³⁶","Vu Dang, 2020⁴¹","blank","total","tevents","het","test"],"paddingInner":0,"paddingOuter":0},"axis":null},"x":{"value":"width"}},"layer":[
{"mark":{"type":"text","align":"right"},"encoding":{"text":{"field":"bt","type":"nominal"}}},
{"data":{"values":[{}]},"mark":{"type":"text","align":"right","fontWeight":"bold","text":"Total"},"encoding":{"y":{"datum":"hdr2"}}},
{"data":{"name":"Ct"},"mark":{"type":"text","align":"right","fontWeight":"bold"},"encoding":{"y":{"datum":"total"},"text":{"field":"bt","type":"nominal"}}},
{"data":{"values":[{}]},"mark":{"type":"rule","color":"#7a7a7a","strokeWidth":2},"encoding":{"x":{"value":0},"x2":{"value":"width"},"y":{"datum":"hdr2","bandPosition":1}}}
]},
{"width":43.4,"height":{"step":13.83},"data":{"name":"C"},"encoding":{"y":{"field":"study","type":"nominal","scale":{"type":"band","domain":["lbl","hdr1","hdr2","Labeyrie, 2018³⁹","Li, 2018⁴²","Papanagiotou, 2018³⁷","Eker, 2018⁴³","Jadhav, 2019³⁸","Kang, 2019⁴⁰","Wallocha, 2019⁹","Kim, 2020³⁶","Vu Dang, 2020⁴¹","blank","total","tevents","het","test"],"paddingInner":0,"paddingOuter":0},"axis":null},"x":{"value":"width"}},"layer":[
{"transform":[{"filter":"isValid(datum.w)"}],"mark":{"type":"text","align":"right"},"encoding":{"text":{"field":"w","type":"quantitative","format":".1%"}}},
{"data":{"values":[{}]},"mark":{"type":"text","align":"right","fontWeight":"bold","text":"Weight"},"encoding":{"y":{"datum":"hdr2"}}},
{"data":{"name":"Ct"},"mark":{"type":"text","align":"right","fontWeight":"bold"},"encoding":{"y":{"datum":"total"},"text":{"field":"w","type":"quantitative","format":".1%"}}},
{"data":{"values":[{}]},"mark":{"type":"rule","color":"#7a7a7a","strokeWidth":2},"encoding":{"x":{"value":0},"x2":{"value":"width"},"y":{"datum":"hdr2","bandPosition":1}}}
]},
{"width":103.3,"height":{"step":13.83},"data":{"name":"C"},"encoding":{"y":{"field":"study","type":"nominal","scale":{"type":"band","domain":["lbl","hdr1","hdr2","Labeyrie, 2018³⁹","Li, 2018⁴²","Papanagiotou, 2018³⁷","Eker, 2018⁴³","Jadhav, 2019³⁸","Kang, 2019⁴⁰","Wallocha, 2019⁹","Kim, 2020³⁶","Vu Dang, 2020⁴¹","blank","total","tevents","het","test"],"paddingInner":0,"paddingOuter":0},"axis":null}},"layer":[
{"mark":{"type":"text","align":"right"},"encoding":{"x":{"value":"width"},"text":{"field":"ci","type":"nominal"}}},
{"data":{"values":[{}]},"mark":{"type":"text","fontWeight":"bold","text":"Odds Ratio"},"encoding":{"y":{"datum":"hdr1"}}},
{"data":{"values":[{}]},"mark":{"type":"text","fontWeight":"bold","dx":5.5,"text":"M-H, Random, 95% CI"},"encoding":{"y":{"datum":"hdr2"}}},
{"data":{"name":"Ct"},"mark":{"type":"text","align":"right","fontWeight":"bold"},"encoding":{"x":{"value":"width"},"y":{"datum":"total"},"text":{"field":"ci","type":"nominal"}}},
{"data":{"values":[{}]},"mark":{"type":"rule","color":"#7a7a7a","strokeWidth":2},"encoding":{"x":{"value":0},"x2":{"value":"width"},"y":{"datum":"hdr2","bandPosition":1}}}
]},
{"width":42.7,"height":{"step":13.83},"data":{"name":"C"},"encoding":{"y":{"field":"study","type":"nominal","scale":{"type":"band","domain":["lbl","hdr1","hdr2","Labeyrie, 2018³⁹","Li, 2018⁴²","Papanagiotou, 2018³⁷","Eker, 2018⁴³","Jadhav, 2019³⁸","Kang, 2019⁴⁰","Wallocha, 2019⁹","Kim, 2020³⁶","Vu Dang, 2020⁴¹","blank","total","tevents","het","test"],"paddingInner":0,"paddingOuter":0},"axis":null}},"layer":[
{"mark":{"type":"text"},"encoding":{"text":{"field":"year","type":"nominal"}}},
{"data":{"values":[{}]},"mark":{"type":"text","fontWeight":"bold","dx":1.5,"text":"Year"},"encoding":{"y":{"datum":"hdr2"}}},
{"data":{"values":[{}]},"mark":{"type":"rule","color":"#7a7a7a","strokeWidth":2},"encoding":{"x":{"value":0},"x2":{"value":"width"},"y":{"datum":"hdr2","bandPosition":1}}}
]},
{"width":229.6,"height":209.45,"data":{"name":"C"},"encoding":{"y":{"field":"study","type":"nominal","scale":{"type":"band","domain":["lbl","hdr1","hdr2","Labeyrie, 2018³⁹","Li, 2018⁴²","Papanagiotou, 2018³⁷","Eker, 2018⁴³","Jadhav, 2019³⁸","Kang, 2019⁴⁰","Wallocha, 2019⁹","Kim, 2020³⁶","Vu Dang, 2020⁴¹","blank","total","tevents"],"paddingInner":0,"paddingOuter":0.072,"align":0},"axis":null}},"layer":[
{"data":{"values":[{}]},"mark":{"type":"rule","color":"#7a7a7a","strokeWidth":2},"encoding":{"x":{"value":0},"x2":{"value":"width"},"y":{"datum":"hdr2","bandPosition":1}}},
{"data":{"values":[{}]},"mark":{"type":"text","fontWeight":"bold","text":"Odds Ratio"},"encoding":{"y":{"datum":"hdr1"}}},
{"data":{"values":[{}]},"mark":{"type":"text","fontWeight":"bold","text":"M-H, Random, 95% CI"},"encoding":{"y":{"datum":"hdr2"}}},
{"transform":[{"filter":"isValid(datum.or)"}],"mark":{"type":"rule","color":"#505050","strokeWidth":1.3},"encoding":{"x":{"field":"lo","type":"quantitative","scale":{"type":"log","domain":[0.01,100],"nice":false,"clamp":true},"axis":{"values":[0.01,0.1,1,10,100],"format":"~g","title":null}},"x2":{"field":"hi"}}},
{"data":{"values":[{}]},"mark":{"type":"rule","color":"#222222","strokeWidth":1},"encoding":{"x":{"datum":1},"y":{"datum":"hdr2","bandPosition":1},"y2":{"value":"height"}}},
{"data":{"values":[{}]},"mark":{"type":"text","align":"right","dx":-4,"dy":21.5,"color":"#4b5673","text":"Angioplasty"},"encoding":{"x":{"datum":1},"y":{"value":"height"}}},
{"data":{"values":[{}]},"mark":{"type":"text","align":"left","dx":5.5,"dy":21.5,"color":"#4b5673","text":"Stenting"},"encoding":{"x":{"datum":1},"y":{"value":"height"}}},
{"transform":[{"filter":"isValid(datum.or)"}],"mark":{"type":"point","shape":"square","filled":true,"opacity":1,"color":"#0000cc","strokeWidth":0},"encoding":{"x":{"field":"or","type":"quantitative"},"size":{"field":"w","type":"quantitative","scale":{"domain":[0,0.4],"range":[0,50]},"legend":null}}},
{"transform":[{"filter":"datum.hi > 100"}],"mark":{"type":"point","shape":"triangle-right","filled":true,"opacity":1,"color":"#222222","size":22},"encoding":{"x":{"field":"hi","type":"quantitative"}}},
{"data":{"name":"Ct"},"transform":[{"fold":["lo","or","hi"],"as":["k","v"]}],"mark":{"type":"trail","color":"#000000"},"encoding":{"x":{"field":"v","type":"quantitative"},"y":{"datum":"total"},"size":{"condition":{"test":"datum.k === 'or'","value":10},"value":0}}}
]},
{"width":10,"height":{"step":13.83},"data":{"values":[{}]},"mark":{"type":"rule","color":"#7a7a7a","strokeWidth":2},"encoding":{"x":{"value":0},"x2":{"value":"width"},"y":{"datum":"hdr2","bandPosition":1,"scale":{"type":"band","domain":["lbl","hdr1","hdr2","Labeyrie, 2018³⁹","Li, 2018⁴²","Papanagiotou, 2018³⁷","Eker, 2018⁴³","Jadhav, 2019³⁸","Kang, 2019⁴⁰","Wallocha, 2019⁹","Kim, 2020³⁶","Vu Dang, 2020⁴¹","blank","total","tevents","het","test"],"paddingInner":0,"paddingOuter":0},"axis":null}}},

{"width":9,"height":{"step":14.17},"data":{"values":[{}]},"mark":{"type":"rule","color":"#7a7a7a","strokeWidth":2},"encoding":{"x":{"value":0},"x2":{"value":"width"},"y":{"datum":"hdr2","bandPosition":1,"scale":{"type":"band","domain":["lbl","hdr1","hdr2","Eker, 2018⁴³","Labeyrie, 2018³⁹","Li, 2018⁴²","Papanagiotou, 2018³⁷","Wallocha, 2019⁹","Jadhav, 2019³⁸","Kang, 2019⁴⁰","Kim, 2020³⁶","Vu Dang, 2020⁴¹","blank","total","tevents","het","test"],"paddingInner":0,"paddingOuter":0},"axis":null}}},
{"width":102,"height":{"step":14.17},"data":{"name":"D"},"encoding":{"y":{"field":"study","type":"nominal","scale":{"type":"band","domain":["lbl","hdr1","hdr2","Eker, 2018⁴³","Labeyrie, 2018³⁹","Li, 2018⁴²","Papanagiotou, 2018³⁷","Wallocha, 2019⁹","Jadhav, 2019³⁸","Kang, 2019⁴⁰","Kim, 2020³⁶","Vu Dang, 2020⁴¹","blank","total","tevents","het","test"],"paddingInner":0,"paddingOuter":0},"axis":null},"x":{"value":0}},"layer":[
{"mark":{"type":"text","align":"left"},"encoding":{"text":{"field":"study","type":"nominal"}}},
{"data":{"values":[{}]},"mark":{"type":"text","align":"left","dx":6,"fontSize":12,"fontWeight":"bold","text":"D"},"encoding":{"y":{"datum":"lbl"}}},
{"data":{"values":[{}]},"mark":{"type":"text","align":"left","fontWeight":"bold","text":"Study or Subgroup"},"encoding":{"y":{"datum":"hdr2"}}},
{"data":{"values":[{}]},"mark":{"type":"text","align":"left","fontWeight":"bold","text":"Total (95% CI)"},"encoding":{"y":{"datum":"total"}}},
{"data":{"values":[{}]},"mark":{"type":"text","align":"left","text":"Total events"},"encoding":{"y":{"datum":"tevents"}}},
{"data":{"name":"Dt"},"mark":{"type":"text","align":"left"},"encoding":{"y":{"datum":"het"},"text":{"field":"het","type":"nominal"}}},
{"data":{"name":"Dt"},"mark":{"type":"text","align":"left"},"encoding":{"y":{"datum":"test"},"text":{"field":"test","type":"nominal"}}},
{"data":{"values":[{}]},"mark":{"type":"rule","color":"#7a7a7a","strokeWidth":2},"encoding":{"x":{"value":0},"x2":{"value":"width"},"y":{"datum":"hdr2","bandPosition":1}}}
]},
{"width":46,"height":{"step":14.17},"data":{"name":"D"},"encoding":{"y":{"field":"study","type":"nominal","scale":{"type":"band","domain":["lbl","hdr1","hdr2","Eker, 2018⁴³","Labeyrie, 2018³⁹","Li, 2018⁴²","Papanagiotou, 2018³⁷","Wallocha, 2019⁹","Jadhav, 2019³⁸","Kang, 2019⁴⁰","Kim, 2020³⁶","Vu Dang, 2020⁴¹","blank","total","tevents","het","test"],"paddingInner":0,"paddingOuter":0},"axis":null},"x":{"value":"width"}},"layer":[
{"mark":{"type":"text","align":"right"},"encoding":{"text":{"field":"ae","type":"nominal"}}},
{"data":{"values":[{}]},"mark":{"type":"text","align":"center","fontWeight":"bold","text":"Acute Stenting"},"encoding":{"y":{"datum":"hdr1"}}},
{"data":{"values":[{}]},"mark":{"type":"text","align":"right","fontWeight":"bold","text":"Events"},"encoding":{"y":{"datum":"hdr2"}}},
{"data":{"name":"Dt"},"mark":{"type":"text","align":"right"},"encoding":{"y":{"datum":"tevents"},"text":{"field":"ae","type":"nominal"}}},
{"data":{"values":[{}]},"mark":{"type":"rule","color":"#7a7a7a","strokeWidth":2},"encoding":{"x":{"value":0},"x2":{"value":"width"},"y":{"datum":"hdr2","bandPosition":1}}}
]},
{"width":44.7,"height":{"step":14.17},"data":{"name":"D"},"encoding":{"y":{"field":"study","type":"nominal","scale":{"type":"band","domain":["lbl","hdr1","hdr2","Eker, 2018⁴³","Labeyrie, 2018³⁹","Li, 2018⁴²","Papanagiotou, 2018³⁷","Wallocha, 2019⁹","Jadhav, 2019³⁸","Kang, 2019⁴⁰","Kim, 2020³⁶","Vu Dang, 2020⁴¹","blank","total","tevents","het","test"],"paddingInner":0,"paddingOuter":0},"axis":null},"x":{"value":"width"}},"layer":[
{"mark":{"type":"text","align":"right"},"encoding":{"text":{"field":"at","type":"nominal"}}},
{"data":{"values":[{}]},"mark":{"type":"text","align":"right","fontWeight":"bold","text":"Total"},"encoding":{"y":{"datum":"hdr2"}}},
{"data":{"name":"Dt"},"mark":{"type":"text","align":"right","fontWeight":"bold"},"encoding":{"y":{"datum":"total"},"text":{"field":"at","type":"nominal"}}},
{"data":{"values":[{}]},"mark":{"type":"rule","color":"#7a7a7a","strokeWidth":2},"encoding":{"x":{"value":0},"x2":{"value":"width"},"y":{"datum":"hdr2","bandPosition":1}}}
]},
{"width":41.3,"height":{"step":14.17},"data":{"name":"D"},"encoding":{"y":{"field":"study","type":"nominal","scale":{"type":"band","domain":["lbl","hdr1","hdr2","Eker, 2018⁴³","Labeyrie, 2018³⁹","Li, 2018⁴²","Papanagiotou, 2018³⁷","Wallocha, 2019⁹","Jadhav, 2019³⁸","Kang, 2019⁴⁰","Kim, 2020³⁶","Vu Dang, 2020⁴¹","blank","total","tevents","het","test"],"paddingInner":0,"paddingOuter":0},"axis":null},"x":{"value":"width"}},"layer":[
{"mark":{"type":"text","align":"right"},"encoding":{"text":{"field":"be","type":"nominal"}}},
{"data":{"values":[{}]},"mark":{"type":"text","align":"center","fontWeight":"bold","text":"Angioplasty"},"encoding":{"y":{"datum":"hdr1"}}},
{"data":{"values":[{}]},"mark":{"type":"text","align":"right","fontWeight":"bold","text":"Events"},"encoding":{"y":{"datum":"hdr2"}}},
{"data":{"name":"Dt"},"mark":{"type":"text","align":"right"},"encoding":{"y":{"datum":"tevents"},"text":{"field":"be","type":"nominal"}}},
{"data":{"values":[{}]},"mark":{"type":"rule","color":"#7a7a7a","strokeWidth":2},"encoding":{"x":{"value":0},"x2":{"value":"width"},"y":{"datum":"hdr2","bandPosition":1}}}
]},
{"width":37,"height":{"step":14.17},"data":{"name":"D"},"encoding":{"y":{"field":"study","type":"nominal","scale":{"type":"band","domain":["lbl","hdr1","hdr2","Eker, 2018⁴³","Labeyrie, 2018³⁹","Li, 2018⁴²","Papanagiotou, 2018³⁷","Wallocha, 2019⁹","Jadhav, 2019³⁸","Kang, 2019⁴⁰","Kim, 2020³⁶","Vu Dang, 2020⁴¹","blank","total","tevents","het","test"],"paddingInner":0,"paddingOuter":0},"axis":null},"x":{"value":"width"}},"layer":[
{"mark":{"type":"text","align":"right"},"encoding":{"text":{"field":"bt","type":"nominal"}}},
{"data":{"values":[{}]},"mark":{"type":"text","align":"right","fontWeight":"bold","text":"Total"},"encoding":{"y":{"datum":"hdr2"}}},
{"data":{"name":"Dt"},"mark":{"type":"text","align":"right","fontWeight":"bold"},"encoding":{"y":{"datum":"total"},"text":{"field":"bt","type":"nominal"}}},
{"data":{"values":[{}]},"mark":{"type":"rule","color":"#7a7a7a","strokeWidth":2},"encoding":{"x":{"value":0},"x2":{"value":"width"},"y":{"datum":"hdr2","bandPosition":1}}}
]},
{"width":43.4,"height":{"step":14.17},"data":{"name":"D"},"encoding":{"y":{"field":"study","type":"nominal","scale":{"type":"band","domain":["lbl","hdr1","hdr2","Eker, 2018⁴³","Labeyrie, 2018³⁹","Li, 2018⁴²","Papanagiotou, 2018³⁷","Wallocha, 2019⁹","Jadhav, 2019³⁸","Kang, 2019⁴⁰","Kim, 2020³⁶","Vu Dang, 2020⁴¹","blank","total","tevents","het","test"],"paddingInner":0,"paddingOuter":0},"axis":null},"x":{"value":"width"}},"layer":[
{"transform":[{"filter":"isValid(datum.w)"}],"mark":{"type":"text","align":"right"},"encoding":{"text":{"field":"w","type":"quantitative","format":".1%"}}},
{"data":{"values":[{}]},"mark":{"type":"text","align":"right","fontWeight":"bold","text":"Weight"},"encoding":{"y":{"datum":"hdr2"}}},
{"data":{"name":"Dt"},"mark":{"type":"text","align":"right","fontWeight":"bold"},"encoding":{"y":{"datum":"total"},"text":{"field":"w","type":"quantitative","format":".1%"}}},
{"data":{"values":[{}]},"mark":{"type":"rule","color":"#7a7a7a","strokeWidth":2},"encoding":{"x":{"value":0},"x2":{"value":"width"},"y":{"datum":"hdr2","bandPosition":1}}}
]},
{"width":103.3,"height":{"step":14.17},"data":{"name":"D"},"encoding":{"y":{"field":"study","type":"nominal","scale":{"type":"band","domain":["lbl","hdr1","hdr2","Eker, 2018⁴³","Labeyrie, 2018³⁹","Li, 2018⁴²","Papanagiotou, 2018³⁷","Wallocha, 2019⁹","Jadhav, 2019³⁸","Kang, 2019⁴⁰","Kim, 2020³⁶","Vu Dang, 2020⁴¹","blank","total","tevents","het","test"],"paddingInner":0,"paddingOuter":0},"axis":null}},"layer":[
{"mark":{"type":"text","align":"right"},"encoding":{"x":{"value":"width"},"text":{"field":"ci","type":"nominal"}}},
{"data":{"values":[{}]},"mark":{"type":"text","fontWeight":"bold","text":"Odds Ratio"},"encoding":{"y":{"datum":"hdr1"}}},
{"data":{"values":[{}]},"mark":{"type":"text","fontWeight":"bold","dx":7,"text":"M-H, Fixed, 95% CI"},"encoding":{"y":{"datum":"hdr2"}}},
{"data":{"name":"Dt"},"mark":{"type":"text","align":"right","fontWeight":"bold"},"encoding":{"x":{"value":"width"},"y":{"datum":"total"},"text":{"field":"ci","type":"nominal"}}},
{"data":{"values":[{}]},"mark":{"type":"rule","color":"#7a7a7a","strokeWidth":2},"encoding":{"x":{"value":0},"x2":{"value":"width"},"y":{"datum":"hdr2","bandPosition":1}}}
]},
{"width":42.7,"height":{"step":14.17},"data":{"name":"D"},"encoding":{"y":{"field":"study","type":"nominal","scale":{"type":"band","domain":["lbl","hdr1","hdr2","Eker, 2018⁴³","Labeyrie, 2018³⁹","Li, 2018⁴²","Papanagiotou, 2018³⁷","Wallocha, 2019⁹","Jadhav, 2019³⁸","Kang, 2019⁴⁰","Kim, 2020³⁶","Vu Dang, 2020⁴¹","blank","total","tevents","het","test"],"paddingInner":0,"paddingOuter":0},"axis":null}},"layer":[
{"mark":{"type":"text"},"encoding":{"text":{"field":"year","type":"nominal"}}},
{"data":{"values":[{}]},"mark":{"type":"text","fontWeight":"bold","dx":1.5,"text":"Year"},"encoding":{"y":{"datum":"hdr2"}}},
{"data":{"values":[{}]},"mark":{"type":"rule","color":"#7a7a7a","strokeWidth":2},"encoding":{"x":{"value":0},"x2":{"value":"width"},"y":{"datum":"hdr2","bandPosition":1}}}
]},
{"width":229.6,"height":217.65,"data":{"name":"D"},"encoding":{"y":{"field":"study","type":"nominal","scale":{"type":"band","domain":["lbl","hdr1","hdr2","Eker, 2018⁴³","Labeyrie, 2018³⁹","Li, 2018⁴²","Papanagiotou, 2018³⁷","Wallocha, 2019⁹","Jadhav, 2019³⁸","Kang, 2019⁴⁰","Kim, 2020³⁶","Vu Dang, 2020⁴¹","blank","total","tevents"],"paddingInner":0,"paddingOuter":0.18,"align":0},"axis":null}},"layer":[
{"data":{"values":[{}]},"mark":{"type":"rule","color":"#7a7a7a","strokeWidth":2},"encoding":{"x":{"value":0},"x2":{"value":"width"},"y":{"datum":"hdr2","bandPosition":1}}},
{"data":{"values":[{}]},"mark":{"type":"text","fontWeight":"bold","text":"Odds Ratio"},"encoding":{"y":{"datum":"hdr1"}}},
{"data":{"values":[{}]},"mark":{"type":"text","fontWeight":"bold","text":"M-H, Fixed, 95% CI"},"encoding":{"y":{"datum":"hdr2"}}},
{"transform":[{"filter":"isValid(datum.or)"}],"mark":{"type":"rule","color":"#505050","strokeWidth":1.3},"encoding":{"x":{"field":"lo","type":"quantitative","scale":{"type":"log","domain":[0.01,100],"nice":false,"clamp":true},"axis":{"values":[0.01,0.1,1,10,100],"format":"~g","title":null}},"x2":{"field":"hi"}}},
{"data":{"values":[{}]},"mark":{"type":"rule","color":"#222222","strokeWidth":1},"encoding":{"x":{"datum":1},"y":{"datum":"hdr2","bandPosition":1},"y2":{"value":"height"}}},
{"data":{"values":[{}]},"mark":{"type":"text","align":"right","dx":-4,"dy":20,"color":"#4b5673","text":"Stenting"},"encoding":{"x":{"datum":1},"y":{"value":"height"}}},
{"data":{"values":[{}]},"mark":{"type":"text","align":"left","dx":5.5,"dy":20,"color":"#4b5673","text":"Angioplasty"},"encoding":{"x":{"datum":1},"y":{"value":"height"}}},
{"transform":[{"filter":"isValid(datum.or)"}],"mark":{"type":"point","shape":"square","filled":true,"opacity":1,"color":"#0000cc","strokeWidth":0},"encoding":{"x":{"field":"or","type":"quantitative"},"size":{"field":"w","type":"quantitative","scale":{"domain":[0,0.4],"range":[0,50]},"legend":null}}},
{"transform":[{"filter":"datum.hi > 100"}],"mark":{"type":"point","shape":"triangle-right","filled":true,"opacity":1,"color":"#222222","size":22},"encoding":{"x":{"field":"hi","type":"quantitative"}}},
{"data":{"name":"Dt"},"transform":[{"fold":["lo","or","hi"],"as":["k","v"]}],"mark":{"type":"trail","color":"#000000"},"encoding":{"x":{"field":"v","type":"quantitative"},"y":{"datum":"total"},"size":{"condition":{"test":"datum.k === 'or'","value":10},"value":0}}}
]},
{"width":10,"height":{"step":14.17},"data":{"values":[{}]},"mark":{"type":"rule","color":"#7a7a7a","strokeWidth":2},"encoding":{"x":{"value":0},"x2":{"value":"width"},"y":{"datum":"hdr2","bandPosition":1,"scale":{"type":"band","domain":["lbl","hdr1","hdr2","Eker, 2018⁴³","Labeyrie, 2018³⁹","Li, 2018⁴²","Papanagiotou, 2018³⁷","Wallocha, 2019⁹","Jadhav, 2019³⁸","Kang, 2019⁴⁰","Kim, 2020³⁶","Vu Dang, 2020⁴¹","blank","total","tevents","het","test"],"paddingInner":0,"paddingOuter":0},"axis":null}}}
]
}
